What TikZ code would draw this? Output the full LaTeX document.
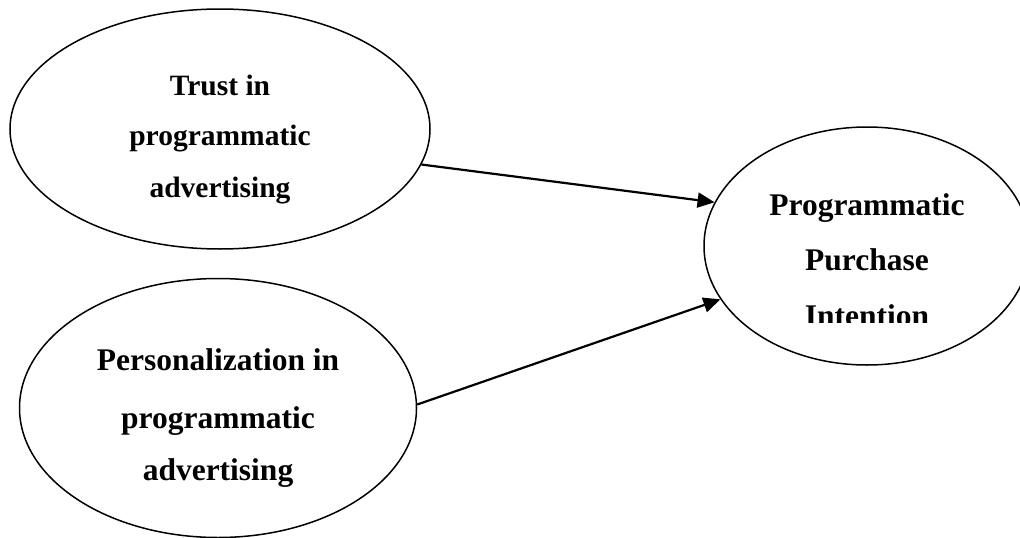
\documentclass[tikz,border=0pt]{standalone}
\usepackage{fontspec}
\setmainfont{Liberation Serif}
\usetikzlibrary{shapes.geometric,arrows.meta}
\begin{document}
\begin{tikzpicture}[x=1pt,y=-1pt,
  construct/.style={draw=black,line width=1.5pt,ellipse,inner sep=0pt},
  linksmall/.style={font=\fontsize{29.5}{30}\selectfont\bfseries,anchor=base,inner sep=0pt},
  linkbig/.style={font=\fontsize{31.5}{32}\selectfont\bfseries,anchor=base,inner sep=0pt},
  path/.style={draw=black,line width=2.2pt,-{Triangle[length=17pt,width=15pt]}}]
  \useasboundingbox (0,0) rectangle (1020,538);
  \clip (0,0) rectangle (1020,538);

  % construct ellipses
  \node[construct,minimum width=420pt,minimum height=240pt] (trust) at (220,129) {};
  \node[construct,minimum width=397pt,minimum height=259pt] (pers) at (218,408) {};
  \node[construct,minimum width=326pt,minimum height=238pt] (ppi) at (867,246) {};

  % labels
  \node[linksmall] (t1) at (220,95) {Trust in};
  \node[linksmall] (t2) at (220,145) {programmatic};
  \node[linksmall] (t3) at (220,197) {advertising};

  \node[linkbig] (p1) at (218,370) {Personalization in};
  \node[linkbig] (p2) at (218,428) {programmatic};
  \node[linkbig] (p3) at (218,480) {advertising};

  \node[linkbig] (i1) at (867,215) {Programmatic};
  \node[linkbig] (i2) at (867,270) {Purchase};
  \begin{scope}
    \clip (700,290) rectangle (1020,322);
    \node[linkbig] (i3) at (867,326) {Intention};
  \end{scope}

  % paths
  \draw[path] (trust.-10.4) -- (ppi.164.1);
  \draw[path] (pers.1.7) -- (ppi.200.3);
\end{tikzpicture}
\end{document}
